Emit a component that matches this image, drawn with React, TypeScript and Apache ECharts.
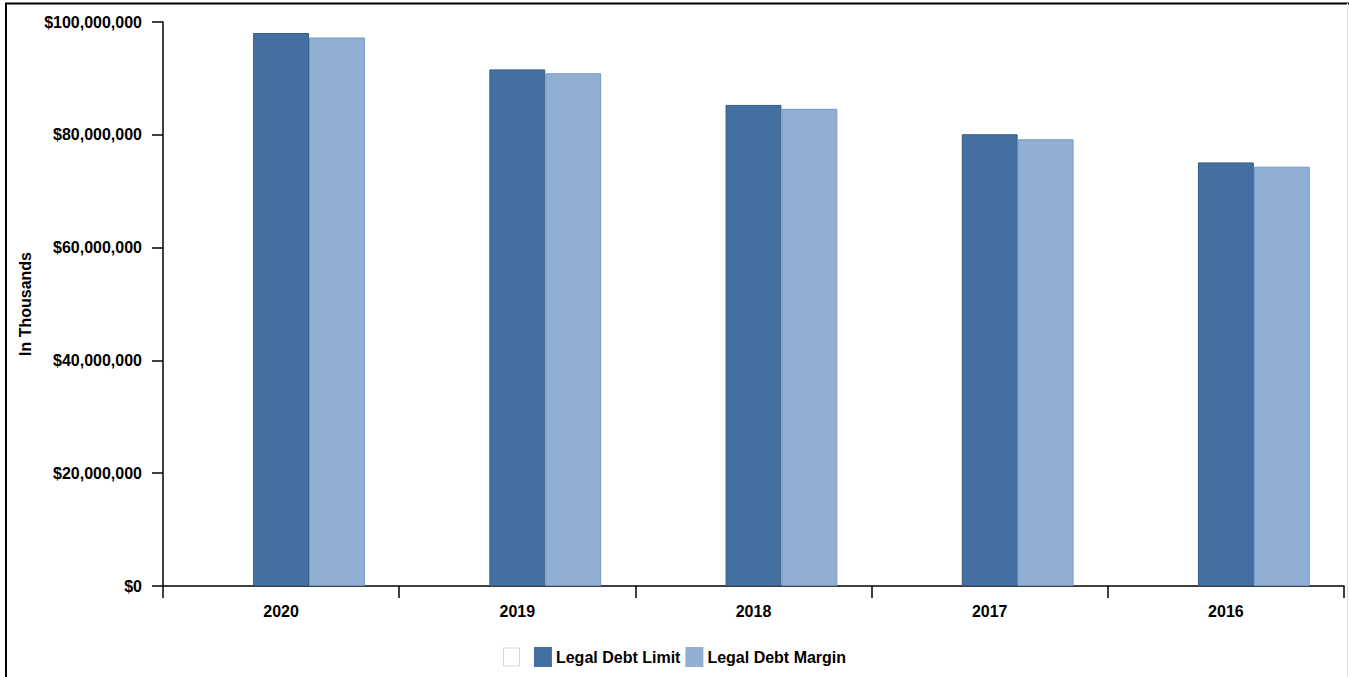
import React, { useEffect, useRef } from "react";
import * as echarts from "echarts";

const years = ["2020", "2019", "2018", "2017", "2016"];
const placeholder = ["-", "-", "-", "-", "-"];
const legalDebtLimit = [98050000, 91600000, 85300000, 80100000, 75100000];
const legalDebtMargin = [97250000, 90900000, 84600000, 79200000, 74350000];
const yTicks = { min: 0, max: 100000000, interval: 20000000 };

const FONT = "Arial, 'Liberation Sans', sans-serif";

function fmt(v: number) {
  return "$" + Math.round(v).toLocaleString("en-US");
}

export default function App() {
  const ref = useRef<HTMLDivElement>(null);
  useEffect(() => {
    if (!ref.current) return;
    const chart = echarts.init(ref.current, undefined, { renderer: "svg" });
    chart.setOption({
      animation: false,
      backgroundColor: "#ffffff",
      textStyle: { fontFamily: FONT },
      grid: { left: 163, right: 5, top: 22, bottom: 91, containLabel: false },
      legend: {
        left: 503,
        top: 647,
        padding: 0,
        itemWidth: 16,
        itemHeight: 18,
        itemGap: 5,
        selectedMode: false,
        textStyle: { fontFamily: FONT, fontSize: 16, fontWeight: "bold", color: "#000" },
        data: [
          { name: " ", icon: "rect", itemStyle: { color: "#ffffff", borderColor: "#d8d8d8", borderWidth: 1 } },
          { name: "Legal Debt Limit", icon: "rect", itemStyle: { color: "#4470a1", borderColor: "#4470a1" } },
          { name: "Legal Debt Margin", icon: "rect", itemStyle: { color: "#90afd3", borderColor: "#90afd3" } },
        ],
      },
      xAxis: {
        type: "category",
        data: years,
        axisLine: { lineStyle: { color: "#000", width: 1.5 } },
        axisTick: { show: true, length: 12, lineStyle: { color: "#000", width: 1.5 } },
        axisLabel: { margin: 17, color: "#000", fontSize: 16, fontWeight: "bold", fontFamily: FONT },
        splitLine: { show: false },
      },
      yAxis: {
        type: "value",
        min: yTicks.min,
        max: yTicks.max,
        interval: yTicks.interval,
        name: "In Thousands",
        nameLocation: "middle",
        nameRotate: 90,
        nameGap: 129,
        nameTextStyle: { color: "#000", fontSize: 16, fontWeight: "bold", fontFamily: FONT },
        axisLine: { show: true, lineStyle: { color: "#000", width: 1.5 } },
        axisTick: { show: true, length: 11, lineStyle: { color: "#000", width: 1.5 } },
        axisLabel: { margin: 21, color: "#000", fontSize: 16, fontWeight: "bold", fontFamily: FONT, formatter: (v: number) => fmt(v) },
        splitLine: { show: false },
      },
      series: [
        {
          name: " ",
          type: "bar",
          data: placeholder,
          barGap: "0%",
          barCategoryGap: "29%",
          itemStyle: { color: "#ffffff" },
        },
        {
          name: "Legal Debt Limit",
          type: "bar",
          data: legalDebtLimit,
          barGap: "0%",
          barCategoryGap: "29%",
          itemStyle: { color: "#4470a1", borderColor: "#365d89", borderWidth: 1 },
        },
        {
          name: "Legal Debt Margin",
          type: "bar",
          data: legalDebtMargin,
          barGap: "0%",
          barCategoryGap: "29%",
          itemStyle: { color: "#90afd3", borderColor: "#7398c4", borderWidth: 1 },
        },
      ],
      graphic: [
        { type: "line", shape: { x1: 5, y1: 3.5, x2: 1349, y2: 3.5 }, style: { stroke: "#000", lineWidth: 2 } },
        { type: "line", shape: { x1: 6, y1: 3, x2: 6, y2: 677 }, style: { stroke: "#000", lineWidth: 2 } },
        { type: "line", shape: { x1: 1347.5, y1: 3, x2: 1347.5, y2: 677 }, style: { stroke: "#e4e4e4", lineWidth: 1 } },
      ],
    });
    return () => chart.dispose();
  }, []);
  return (
    <div
      ref={ref}
      style={{ position: "fixed", left: 0, top: 0, width: 1349, height: 677 }}
    />
  );
}
